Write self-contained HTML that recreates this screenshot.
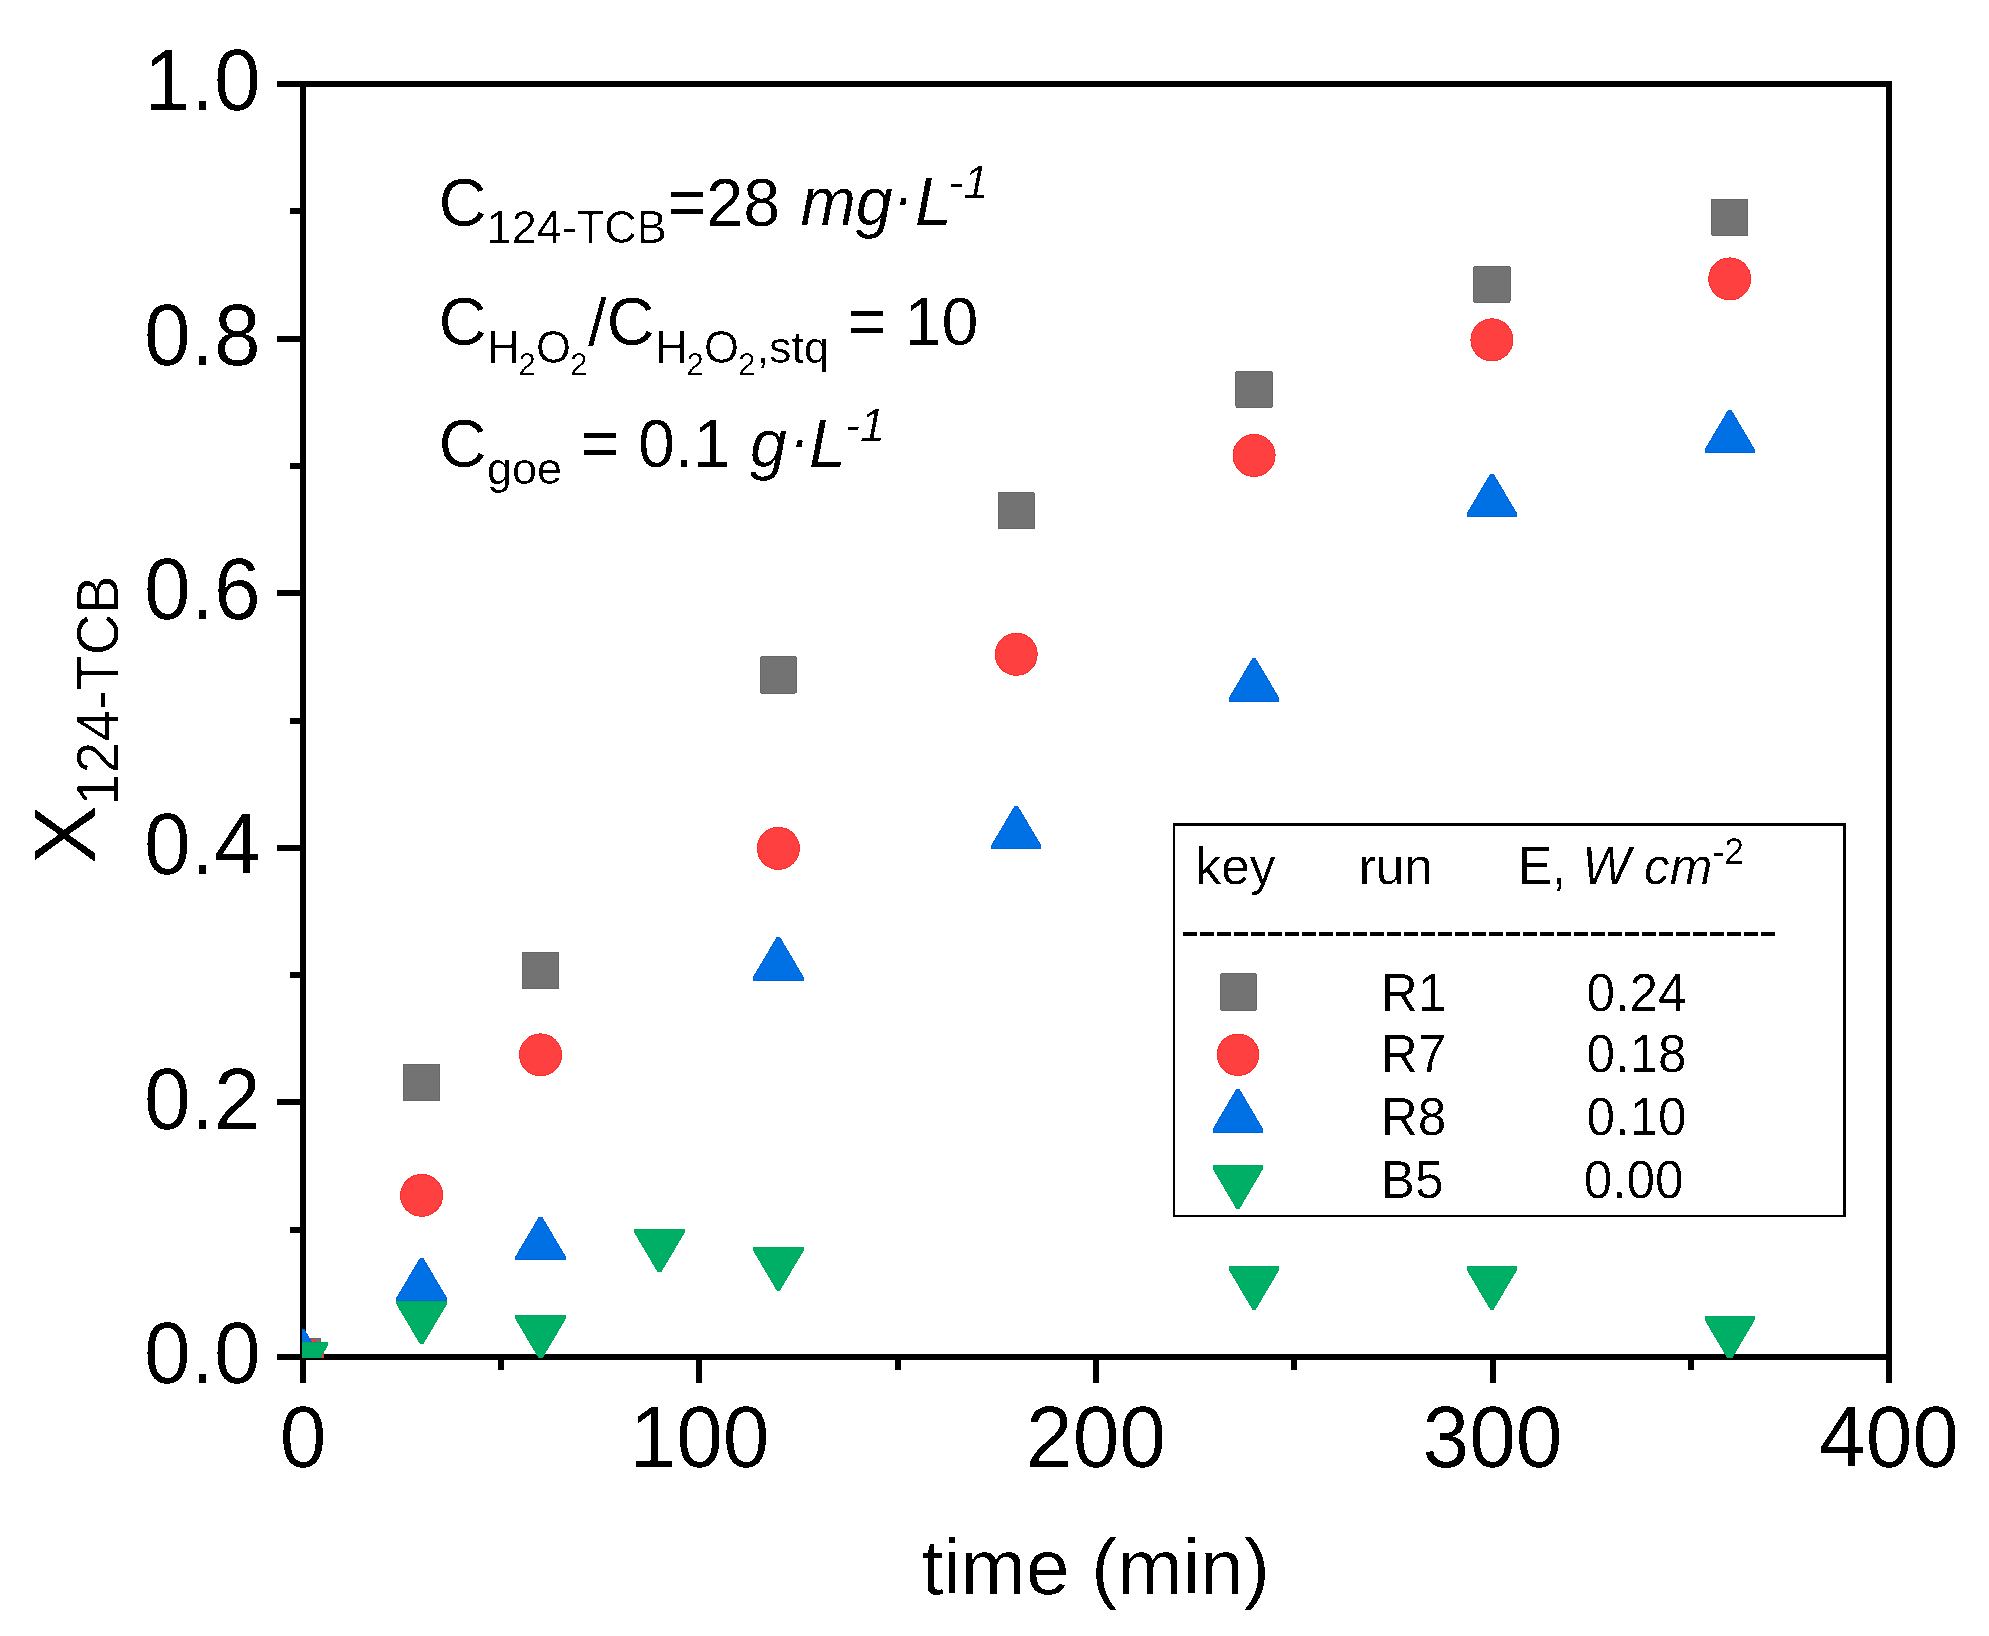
<!DOCTYPE html>
<html><head><meta charset="utf-8"><title>X124-TCB vs time</title>
<style>
html,body{margin:0;padding:0;background:#fff;}
body{width:1989px;height:1636px;overflow:hidden;}
svg{position:absolute;left:0;top:0;display:block;}
text{font-family:"Liberation Sans", Arial, sans-serif;fill:#000;}
</style></head><body>
<svg width="1989" height="1636" viewBox="0 0 1989 1636">
<defs>
<clipPath id="pc"><rect x="302" y="84" width="1587" height="1274"/></clipPath>
<filter id="aa" x="0" y="0" width="1989" height="1636" filterUnits="userSpaceOnUse"><feComponentTransfer><feFuncA type="discrete" tableValues="0 0 1"/></feComponentTransfer></filter>
</defs>
<rect width="1989" height="1636" fill="#fff"/>
<g fill="#000" shape-rendering="crispEdges"><rect x="300" y="81" width="6" height="1279"/><rect x="1886" y="81" width="6" height="1279"/><rect x="277" y="81" width="1615" height="6"/><rect x="300" y="1354" width="1592" height="6"/><rect x="300" y="1360" width="6" height="23"/><rect x="696" y="1360" width="6" height="23"/><rect x="1093" y="1360" width="6" height="23"/><rect x="1490" y="1360" width="6" height="23"/><rect x="1886" y="1360" width="6" height="23"/><rect x="498" y="1360" width="6" height="10"/><rect x="895" y="1360" width="6" height="10"/><rect x="1291" y="1360" width="6" height="10"/><rect x="1688" y="1360" width="6" height="10"/><rect x="277" y="1354" width="23" height="6"/><rect x="277" y="1099" width="23" height="6"/><rect x="277" y="845" width="23" height="6"/><rect x="277" y="590" width="23" height="6"/><rect x="277" y="336" width="23" height="6"/><rect x="277" y="81" width="23" height="6"/><rect x="290" y="1227" width="10" height="6"/><rect x="290" y="972" width="10" height="6"/><rect x="290" y="718" width="10" height="6"/><rect x="290" y="463" width="10" height="6"/><rect x="290" y="208" width="10" height="6"/><path d="M1183 934H1775" stroke="#000" stroke-width="4" stroke-dasharray="14 3" fill="none"/><rect x="1173" y="823" width="673" height="3"/><rect x="1173" y="1215" width="673" height="2"/><rect x="1173" y="823" width="2" height="394"/><rect x="1843" y="823" width="3" height="394"/></g>
<g filter="url(#aa)"><text transform="translate(260.80,1383.20) scale(1,1.04)" font-size="84" text-anchor="end">0.0</text><text transform="translate(260.80,1128.60) scale(1,1.04)" font-size="84" text-anchor="end">0.2</text><text transform="translate(260.80,874.00) scale(1,1.04)" font-size="84" text-anchor="end">0.4</text><text transform="translate(260.80,619.40) scale(1,1.04)" font-size="84" text-anchor="end">0.6</text><text transform="translate(260.80,364.80) scale(1,1.04)" font-size="84" text-anchor="end">0.8</text><text transform="translate(260.80,110.20) scale(1,1.04)" font-size="84" text-anchor="end">1.0</text><text transform="translate(303.00,1467.00) scale(1,1.04)" font-size="84" text-anchor="middle">0</text><text transform="translate(699.50,1467.00) scale(1,1.04)" font-size="84" text-anchor="middle">100</text><text transform="translate(1096.00,1467.00) scale(1,1.04)" font-size="84" text-anchor="middle">200</text><text transform="translate(1492.50,1467.00) scale(1,1.04)" font-size="84" text-anchor="middle">300</text><text transform="translate(1889.00,1467.00) scale(1,1.04)" font-size="84" text-anchor="middle">400</text><text transform="translate(1095.60,1594.00) scale(1,1.0)" font-size="78.4" text-anchor="middle">time (min)</text><g transform="translate(94.8,0) rotate(-90)"><text transform="translate(-863.98,0) scale(1.0575,1.04)" font-size="83">X</text><text transform="translate(-805.50,23.50) scale(1,1.04)" font-size="57.5">124-TCB</text></g><text transform="translate(438.50,225.50) scale(1,1.04)" font-size="66.5">C</text><text transform="translate(486.70,242.80) scale(1,1.04)" font-size="45">124-TCB</text><text transform="translate(667.50,225.50) scale(1,1.04)" font-size="66.5">=28</text><text transform="translate(800.40,224.50) scale(1,1.04)" font-size="66.5" font-style="italic">mg</text><text transform="translate(893.30,218.75) scale(1,1.04)" font-size="60" font-style="italic">·</text><text transform="translate(914.90,224.50) scale(1,1.04)" font-size="66.5" font-style="italic">L</text><text transform="translate(948.50,197.50) scale(1,1.04)" font-size="45" font-style="italic">-1</text><text transform="translate(438.50,345.40) scale(1,1.04)" font-size="66.5">C</text><text transform="translate(487.00,363.00) scale(1,1.04)" font-size="45">H</text><text transform="translate(518.50,374.90) scale(1,1.04)" font-size="31">2</text><text transform="translate(536.00,363.00) scale(1,1.04)" font-size="45">O</text><text transform="translate(570.30,374.90) scale(1,1.04)" font-size="31">2</text><text transform="translate(587.90,345.40) scale(1,1.0)" font-size="66.5">/</text><text transform="translate(606.50,345.40) scale(1,1.04)" font-size="66.5">C</text><text transform="translate(655.00,363.00) scale(1,1.04)" font-size="45">H</text><text transform="translate(686.50,374.90) scale(1,1.04)" font-size="31">2</text><text transform="translate(704.00,363.00) scale(1,1.04)" font-size="45">O</text><text transform="translate(738.30,374.90) scale(1,1.04)" font-size="31">2</text><text transform="translate(756.40,363.00) scale(1,1.0)" font-size="45">,stq</text><text transform="translate(847.30,345.40) scale(1,1.04)" font-size="66.5">= 10</text><text transform="translate(438.50,467.30) scale(1,1.04)" font-size="66.5">C</text><text transform="translate(487.00,483.90) scale(1,1.0)" font-size="45">goe</text><text transform="translate(580.60,467.30) scale(1,1.04)" font-size="66.5">= 0.1</text><text transform="translate(750.00,467.30) scale(1,1.04)" font-size="66.5" font-style="italic">g</text><text transform="translate(789.50,460.90) scale(1,1.04)" font-size="60" font-style="italic">·</text><text transform="translate(809.10,467.30) scale(1,1.04)" font-size="66.5" font-style="italic">L</text><text transform="translate(845.00,441.30) scale(1,1.04)" font-size="45" font-style="italic">-1</text><text transform="translate(1195.50,883.90) scale(1,1.0)" font-size="51.3">key</text><text transform="translate(1358.70,883.90) scale(1,1.0)" font-size="51.3">run</text><text transform="translate(1517.70,883.90) scale(1,1.04)" font-size="51.3">E,</text><text transform="translate(1582.00,883.90) scale(1,1.04)" font-size="51.3" font-style="italic">W</text><text transform="translate(1644.00,883.90) scale(1,1.0)" font-size="51.3" font-style="italic">cm</text><text transform="translate(1712.50,864.30) scale(1,1.04)" font-size="35.6">-2</text><text transform="translate(1181.50,947.60) scale(1,1.0)" font-size="51.05">-----------------------------------</text><text transform="translate(1380.80,1010.50) scale(1,1.04)" font-size="51.3">R1</text><text transform="translate(1586.60,1010.50) scale(1,1.04)" font-size="51.3">0.24</text><text transform="translate(1380.80,1072.00) scale(1,1.04)" font-size="51.3">R7</text><text transform="translate(1586.60,1072.00) scale(1,1.04)" font-size="51.3">0.18</text><text transform="translate(1380.80,1135.30) scale(1,1.04)" font-size="51.3">R8</text><text transform="translate(1586.60,1135.30) scale(1,1.04)" font-size="51.3">0.10</text><text transform="translate(1380.80,1198.40) scale(1,1.04)" font-size="51.3">B5</text><text transform="translate(1583.70,1198.40) scale(1,1.04)" font-size="51.3">0.00</text></g>
<g shape-rendering="crispEdges"><rect x="1220.30" y="973.90" width="36.20" height="36.20" rx="1.2" fill="#737373" stroke="#676767" stroke-width="1"/><circle cx="1238.00" cy="1054.70" r="20.70" fill="#FF4040" stroke="#FF2A2A" stroke-width="1"/><polygon points="1236.50,1089.50 1239.30,1089.50 1262.55,1129.10 1262.55,1132.30 1213.25,1132.30 1213.25,1129.10" fill="#0071E5" stroke="#0062E0" stroke-width="1"/><polygon points="1213.25,1165.50 1262.55,1165.50 1262.55,1168.70 1239.30,1208.30 1236.50,1208.30 1213.25,1168.70" fill="#00AF66" stroke="#00A85C" stroke-width="1"/></g>
<g clip-path="url(#pc)" shape-rendering="crispEdges"><rect x="284.60" y="1338.60" width="36.20" height="36.20" rx="1.2" fill="#737373" stroke="#676767" stroke-width="1"/><rect x="403.52" y="1064.30" width="36.20" height="36.20" rx="1.2" fill="#737373" stroke="#676767" stroke-width="1"/><rect x="522.44" y="952.40" width="36.20" height="36.20" rx="1.2" fill="#737373" stroke="#676767" stroke-width="1"/><rect x="760.28" y="656.80" width="36.20" height="36.20" rx="1.2" fill="#737373" stroke="#676767" stroke-width="1"/><rect x="998.12" y="492.70" width="36.20" height="36.20" rx="1.2" fill="#737373" stroke="#676767" stroke-width="1"/><rect x="1235.96" y="371.10" width="36.20" height="36.20" rx="1.2" fill="#737373" stroke="#676767" stroke-width="1"/><rect x="1473.80" y="266.20" width="36.20" height="36.20" rx="1.2" fill="#737373" stroke="#676767" stroke-width="1"/><rect x="1711.64" y="199.30" width="36.20" height="36.20" rx="1.2" fill="#737373" stroke="#676767" stroke-width="1"/><circle cx="302.70" cy="1358.40" r="21.00" fill="#FF4040" stroke="#FF2A2A" stroke-width="1"/><circle cx="421.62" cy="1195.40" r="21.00" fill="#FF4040" stroke="#FF2A2A" stroke-width="1"/><circle cx="540.54" cy="1054.90" r="21.00" fill="#FF4040" stroke="#FF2A2A" stroke-width="1"/><circle cx="778.38" cy="848.40" r="21.00" fill="#FF4040" stroke="#FF2A2A" stroke-width="1"/><circle cx="1016.22" cy="654.30" r="21.00" fill="#FF4040" stroke="#FF2A2A" stroke-width="1"/><circle cx="1254.06" cy="455.40" r="21.00" fill="#FF4040" stroke="#FF2A2A" stroke-width="1"/><circle cx="1491.90" cy="339.85" r="21.00" fill="#FF4040" stroke="#FF2A2A" stroke-width="1"/><circle cx="1729.74" cy="278.90" r="21.00" fill="#FF4040" stroke="#FF2A2A" stroke-width="1"/><polygon points="301.30,1329.50 304.10,1329.50 327.35,1368.80 327.35,1372.00 278.05,1372.00 278.05,1368.80" fill="#0071E5" stroke="#0062E0" stroke-width="1"/><polygon points="420.22,1258.40 423.02,1258.40 446.27,1297.70 446.27,1300.90 396.97,1300.90 396.97,1297.70" fill="#0071E5" stroke="#0062E0" stroke-width="1"/><polygon points="539.14,1217.30 541.94,1217.30 565.19,1256.60 565.19,1259.80 515.89,1259.80 515.89,1256.60" fill="#0071E5" stroke="#0062E0" stroke-width="1"/><polygon points="776.98,937.50 779.78,937.50 803.03,976.80 803.03,980.00 753.73,980.00 753.73,976.80" fill="#0071E5" stroke="#0062E0" stroke-width="1"/><polygon points="1014.82,806.40 1017.62,806.40 1040.87,845.70 1040.87,848.90 991.57,848.90 991.57,845.70" fill="#0071E5" stroke="#0062E0" stroke-width="1"/><polygon points="1252.66,658.70 1255.46,658.70 1278.71,698.00 1278.71,701.20 1229.41,701.20 1229.41,698.00" fill="#0071E5" stroke="#0062E0" stroke-width="1"/><polygon points="1490.50,474.20 1493.30,474.20 1516.55,513.50 1516.55,516.70 1467.25,516.70 1467.25,513.50" fill="#0071E5" stroke="#0062E0" stroke-width="1"/><polygon points="1728.34,410.40 1731.14,410.40 1754.39,449.70 1754.39,452.90 1705.09,452.90 1705.09,449.70" fill="#0071E5" stroke="#0062E0" stroke-width="1"/><polygon points="278.05,1342.50 327.35,1342.50 327.35,1345.70 304.10,1385.00 301.30,1385.00 278.05,1345.70" fill="#00AF66" stroke="#00A85C" stroke-width="1"/><polygon points="396.97,1301.10 446.27,1301.10 446.27,1304.30 423.02,1343.60 420.22,1343.60 396.97,1304.30" fill="#00AF66" stroke="#00A85C" stroke-width="1"/><polygon points="515.89,1315.70 565.19,1315.70 565.19,1318.90 541.94,1358.20 539.14,1358.20 515.89,1318.90" fill="#00AF66" stroke="#00A85C" stroke-width="1"/><polygon points="634.81,1229.40 684.11,1229.40 684.11,1232.60 660.86,1271.90 658.06,1271.90 634.81,1232.60" fill="#00AF66" stroke="#00A85C" stroke-width="1"/><polygon points="753.73,1247.50 803.03,1247.50 803.03,1250.70 779.78,1290.00 776.98,1290.00 753.73,1250.70" fill="#00AF66" stroke="#00A85C" stroke-width="1"/><polygon points="1229.41,1266.60 1278.71,1266.60 1278.71,1269.80 1255.46,1309.10 1252.66,1309.10 1229.41,1269.80" fill="#00AF66" stroke="#00A85C" stroke-width="1"/><polygon points="1467.25,1266.60 1516.55,1266.60 1516.55,1269.80 1493.30,1309.10 1490.50,1309.10 1467.25,1269.80" fill="#00AF66" stroke="#00A85C" stroke-width="1"/><polygon points="1705.09,1316.50 1754.39,1316.50 1754.39,1319.70 1731.14,1359.00 1728.34,1359.00 1705.09,1319.70" fill="#00AF66" stroke="#00A85C" stroke-width="1"/></g>
</svg>
</body></html>
